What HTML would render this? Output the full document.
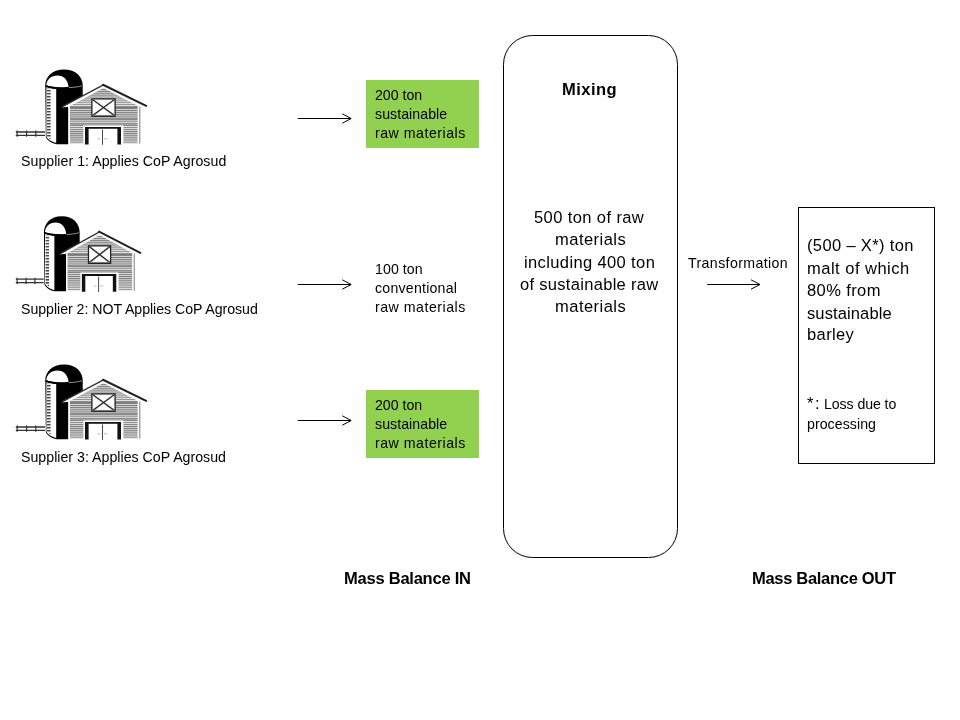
<!DOCTYPE html>
<html lang="en">
<head>
<meta charset="utf-8">
<title>Mass Balance</title>
<style>
html,body{margin:0;padding:0;background:#fff;}
body{width:960px;height:720px;position:relative;overflow:hidden;font-family:"Liberation Sans",sans-serif;color:#000;}
.t{position:absolute;will-change:transform;white-space:pre;line-height:normal;font-family:"Liberation Sans",sans-serif;color:#000;}
.b{font-weight:bold;}
.green{position:absolute;left:366px;width:113px;height:67.75px;background:#92d050;}
svg.art{position:absolute;left:0;top:0;width:960px;height:720px;}
</style>
</head>
<body>
<div class="green" style="top:80px"></div>
<div class="green" style="top:390px"></div>
<svg class="art" viewBox="0 0 960 720" width="960" height="720">
<defs>
<pattern id="sid" x="0" y="0.9" width="4" height="2.1" patternUnits="userSpaceOnUse">
<rect x="0" y="0" width="4" height="2.1" fill="#e6e6e6"/>
<rect x="0" y="0" width="4" height="1.05" fill="#7c7c7c"/>
</pattern>
<pattern id="lad" x="0" y="0" width="4" height="3" patternUnits="userSpaceOnUse">
<rect x="0" y="0" width="4" height="3" fill="#eee"/>
<rect x="0" y="0" width="4" height="1.4" fill="#444"/>
</pattern>
</defs>
<!-- barns -->
<g>
<!-- fence -->
<g stroke="#333" stroke-width="1.3" fill="none">
<path d="M15.8 132H45M15.8 135.4H45"/>
<path d="M17.2 130.6V136.8M26.6 130.6V136.8M35.8 130.6V136.8" stroke-width="1.2"/>
</g>
<!-- silo -->
<path d="M45.3 85.5C45.3 77 52 69.5 64 69.5C76 69.5 82.7 77 82.7 85.5V96L68.4 104V144.2H57C50.5 143 47 140 45.8 137Z" fill="#000"/>
<path d="M46.3 85.3C46.6 79.6 51 75.6 57.5 75.6C64 75.6 67.5 80 68.6 86.8C62 88 52 87.4 46.3 85.3Z" fill="#fff"/>
<path d="M46.4 87.2C50 88.4 53 88.9 56.2 89.1V143C51 141.5 47.5 139.5 46.4 136.5Z" fill="#fff"/>
<path d="M47 88V136.5L50.6 139.5V88.8Z" fill="url(#lad)"/>
<path d="M45.3 85.5C52 88.6 74 89.4 82.7 85.6" stroke="#000" stroke-width="1.2" fill="none"/>
<path d="M68.8 87.6C74 87.4 79 86.8 82.5 85.6" stroke="#fff" stroke-width="0.7" fill="none" opacity=".8"/>
<!-- barn body -->
<path d="M62 107.6L103.5 85L146.5 106.8H140.2V144.2H68.4V106.8Z" fill="#fff"/>
<path d="M70 106L103.5 88L137.6 105.8V143.6H70Z" fill="url(#sid)"/>
<path d="M70 107.6H137.6M70 119H137.6" stroke="#555" stroke-width="0.8" fill="none"/>
<rect x="70" y="123.4" width="67.6" height="2.4" fill="#777" opacity=".55"/>
<path d="M139.8 106.5V143.6" stroke="#444" stroke-width="0.7" fill="none"/>
<!-- roof -->
<path d="M62.2 106.6L103.5 84.9" fill="none" stroke="#333" stroke-width="1.4"/>
<path d="M103 84.8L146.2 105.9" fill="none" stroke="#222" stroke-width="2.1" stroke-linecap="round"/>
<!-- window -->
<rect x="91.9" y="98.9" width="23.2" height="17.4" fill="#fff" stroke="#222" stroke-width="1.3"/>
<path d="M92.5 99.5L114.5 115.7M114.5 99.5L92.5 115.7" stroke="#333" stroke-width="1.5" fill="none"/>
<path d="M92.5 115.4H114.5" stroke="#777" stroke-width="1" fill="none"/>
<!-- door -->
<rect x="83.4" y="125.4" width="40" height="19.2" fill="#fff"/>
<path d="M85 144.5V127H121V144.5H117.4V128.8H88.6V144.5Z" fill="#111"/>
<path d="M102.5 129.5V144.8" stroke="#333" stroke-width="0.9"/>
<path d="M97.5 138.8H100.2M104 138.8H107.5" stroke="#aaa" stroke-width="0.8"/>
</g>
<g transform="translate(15.8 216.3) scale(0.955 1.005) translate(-15.8 -69.5)">
<!-- fence -->
<g stroke="#333" stroke-width="1.3" fill="none">
<path d="M15.8 132H45M15.8 135.4H45"/>
<path d="M17.2 130.6V136.8M26.6 130.6V136.8M35.8 130.6V136.8" stroke-width="1.2"/>
</g>
<!-- silo -->
<path d="M45.3 85.5C45.3 77 52 69.5 64 69.5C76 69.5 82.7 77 82.7 85.5V96L68.4 104V144.2H57C50.5 143 47 140 45.8 137Z" fill="#000"/>
<path d="M46.3 85.3C46.6 79.6 51 75.6 57.5 75.6C64 75.6 67.5 80 68.6 86.8C62 88 52 87.4 46.3 85.3Z" fill="#fff"/>
<path d="M46.4 87.2C50 88.4 53 88.9 56.2 89.1V143C51 141.5 47.5 139.5 46.4 136.5Z" fill="#fff"/>
<path d="M47 88V136.5L50.6 139.5V88.8Z" fill="url(#lad)"/>
<path d="M45.3 85.5C52 88.6 74 89.4 82.7 85.6" stroke="#000" stroke-width="1.2" fill="none"/>
<path d="M68.8 87.6C74 87.4 79 86.8 82.5 85.6" stroke="#fff" stroke-width="0.7" fill="none" opacity=".8"/>
<!-- barn body -->
<path d="M62 107.6L103.5 85L146.5 106.8H140.2V144.2H68.4V106.8Z" fill="#fff"/>
<path d="M70 106L103.5 88L137.6 105.8V143.6H70Z" fill="url(#sid)"/>
<path d="M70 107.6H137.6M70 119H137.6" stroke="#555" stroke-width="0.8" fill="none"/>
<rect x="70" y="123.4" width="67.6" height="2.4" fill="#777" opacity=".55"/>
<path d="M139.8 106.5V143.6" stroke="#444" stroke-width="0.7" fill="none"/>
<!-- roof -->
<path d="M62.2 106.6L103.5 84.9" fill="none" stroke="#333" stroke-width="1.4"/>
<path d="M103 84.8L146.2 105.9" fill="none" stroke="#222" stroke-width="2.1" stroke-linecap="round"/>
<!-- window -->
<rect x="91.9" y="98.9" width="23.2" height="17.4" fill="#fff" stroke="#222" stroke-width="1.3"/>
<path d="M92.5 99.5L114.5 115.7M114.5 99.5L92.5 115.7" stroke="#333" stroke-width="1.5" fill="none"/>
<path d="M92.5 115.4H114.5" stroke="#777" stroke-width="1" fill="none"/>
<!-- door -->
<rect x="83.4" y="125.4" width="40" height="19.2" fill="#fff"/>
<path d="M85 144.5V127H121V144.5H117.4V128.8H88.6V144.5Z" fill="#111"/>
<path d="M102.5 129.5V144.8" stroke="#333" stroke-width="0.9"/>
<path d="M97.5 138.8H100.2M104 138.8H107.5" stroke="#aaa" stroke-width="0.8"/>
</g>
<g transform="translate(0 295)">
<!-- fence -->
<g stroke="#333" stroke-width="1.3" fill="none">
<path d="M15.8 132H45M15.8 135.4H45"/>
<path d="M17.2 130.6V136.8M26.6 130.6V136.8M35.8 130.6V136.8" stroke-width="1.2"/>
</g>
<!-- silo -->
<path d="M45.3 85.5C45.3 77 52 69.5 64 69.5C76 69.5 82.7 77 82.7 85.5V96L68.4 104V144.2H57C50.5 143 47 140 45.8 137Z" fill="#000"/>
<path d="M46.3 85.3C46.6 79.6 51 75.6 57.5 75.6C64 75.6 67.5 80 68.6 86.8C62 88 52 87.4 46.3 85.3Z" fill="#fff"/>
<path d="M46.4 87.2C50 88.4 53 88.9 56.2 89.1V143C51 141.5 47.5 139.5 46.4 136.5Z" fill="#fff"/>
<path d="M47 88V136.5L50.6 139.5V88.8Z" fill="url(#lad)"/>
<path d="M45.3 85.5C52 88.6 74 89.4 82.7 85.6" stroke="#000" stroke-width="1.2" fill="none"/>
<path d="M68.8 87.6C74 87.4 79 86.8 82.5 85.6" stroke="#fff" stroke-width="0.7" fill="none" opacity=".8"/>
<!-- barn body -->
<path d="M62 107.6L103.5 85L146.5 106.8H140.2V144.2H68.4V106.8Z" fill="#fff"/>
<path d="M70 106L103.5 88L137.6 105.8V143.6H70Z" fill="url(#sid)"/>
<path d="M70 107.6H137.6M70 119H137.6" stroke="#555" stroke-width="0.8" fill="none"/>
<rect x="70" y="123.4" width="67.6" height="2.4" fill="#777" opacity=".55"/>
<path d="M139.8 106.5V143.6" stroke="#444" stroke-width="0.7" fill="none"/>
<!-- roof -->
<path d="M62.2 106.6L103.5 84.9" fill="none" stroke="#333" stroke-width="1.4"/>
<path d="M103 84.8L146.2 105.9" fill="none" stroke="#222" stroke-width="2.1" stroke-linecap="round"/>
<!-- window -->
<rect x="91.9" y="98.9" width="23.2" height="17.4" fill="#fff" stroke="#222" stroke-width="1.3"/>
<path d="M92.5 99.5L114.5 115.7M114.5 99.5L92.5 115.7" stroke="#333" stroke-width="1.5" fill="none"/>
<path d="M92.5 115.4H114.5" stroke="#777" stroke-width="1" fill="none"/>
<!-- door -->
<rect x="83.4" y="125.4" width="40" height="19.2" fill="#fff"/>
<path d="M85 144.5V127H121V144.5H117.4V128.8H88.6V144.5Z" fill="#111"/>
<path d="M102.5 129.5V144.8" stroke="#333" stroke-width="0.9"/>
<path d="M97.5 138.8H100.2M104 138.8H107.5" stroke="#aaa" stroke-width="0.8"/>
</g>
<!-- arrows -->
<g stroke="#000" stroke-width="1" fill="none" stroke-linecap="butt" stroke-linejoin="miter">
<path d="M297.8 118.5H351M342.3 113.8L351.2 118.5L342.3 123.2"/>
<path d="M297.8 284.5H351M342.3 279.8L351.2 284.5L342.3 289.2"/>
<path d="M297.8 420.5H351M342.3 415.8L351.2 420.5L342.3 425.2"/>
<path d="M707.2 284.5H759.8M751 279.8L760 284.5L751 289.2"/>
</g>
<!-- mixing vessel -->
<rect x="503.5" y="35.5" width="174" height="522" rx="29" ry="29" fill="none" stroke="#000" stroke-width="1"/>
<!-- output box -->
<rect x="798.5" y="207.5" width="136" height="256" fill="none" stroke="#000" stroke-width="1"/>
</svg>

<span class="t" style="left:21.00px;top:152.99px;font-size:14.16px;letter-spacing:0.030px">Supplier 1: Applies CoP Agrosud</span>
<span class="t" style="left:21.00px;top:301.49px;font-size:14.16px;letter-spacing:-0.032px">Supplier 2: NOT Applies CoP Agrosud</span>
<span class="t" style="left:21.00px;top:448.79px;font-size:14.16px;letter-spacing:0.021px">Supplier 3: Applies CoP Agrosud</span>
<span class="t" style="left:375.05px;top:87.19px;font-size:14.16px;letter-spacing:-0.005px">200 ton</span>
<span class="t" style="left:375.05px;top:106.09px;font-size:14.16px;letter-spacing:0.052px">sustainable</span>
<span class="t" style="left:375.05px;top:124.99px;font-size:14.16px;letter-spacing:0.510px">raw materials</span>
<span class="t" style="left:375.05px;top:260.94px;font-size:14.16px;letter-spacing:0.067px">100 ton</span>
<span class="t" style="left:375.05px;top:280.19px;font-size:14.16px;letter-spacing:0.225px">conventional</span>
<span class="t" style="left:375.05px;top:299.19px;font-size:14.16px;letter-spacing:0.510px">raw materials</span>
<span class="t" style="left:375.05px;top:397.19px;font-size:14.16px;letter-spacing:-0.005px">200 ton</span>
<span class="t" style="left:375.05px;top:416.19px;font-size:14.16px;letter-spacing:0.052px">sustainable</span>
<span class="t" style="left:375.05px;top:435.19px;font-size:14.16px;letter-spacing:0.510px">raw materials</span>
<span class="t b" style="left:562.30px;top:80.05px;font-size:16.52px;letter-spacing:0.451px">Mixing</span>
<span class="t" style="left:534.30px;top:207.75px;font-size:16.52px;letter-spacing:0.395px">500 ton of raw</span>
<span class="t" style="left:554.50px;top:230.15px;font-size:16.52px;letter-spacing:0.467px">materials</span>
<span class="t" style="left:523.70px;top:252.55px;font-size:16.52px;letter-spacing:0.371px">including 400 ton</span>
<span class="t" style="left:520.10px;top:274.95px;font-size:16.52px;letter-spacing:0.299px">of sustainable raw</span>
<span class="t" style="left:554.50px;top:297.35px;font-size:16.52px;letter-spacing:0.467px">materials</span>
<span class="t" style="left:687.70px;top:255.39px;font-size:14.16px;letter-spacing:0.388px">Transformation</span>
<span class="t" style="left:806.80px;top:236.35px;font-size:16.52px;letter-spacing:0.348px">(500 – X*) ton</span>
<span class="t" style="left:806.80px;top:258.75px;font-size:16.52px;letter-spacing:0.485px">malt of which</span>
<span class="t" style="left:806.80px;top:281.15px;font-size:16.52px;letter-spacing:0.389px">80% from</span>
<span class="t" style="left:806.80px;top:303.55px;font-size:16.52px;letter-spacing:0.112px">sustainable</span>
<span class="t" style="left:806.80px;top:325.45px;font-size:16.52px;letter-spacing:0.378px">barley</span>
<span class="t" style="left:807.30px;top:394.30px;font-size:16.52px;letter-spacing:1.684px">*:</span>
<span class="t" style="left:824.30px;top:396.44px;font-size:14.16px;letter-spacing:-0.087px">Loss due to</span>
<span class="t" style="left:806.80px;top:416.44px;font-size:14.16px;letter-spacing:0.053px">processing</span>
<span class="t b" style="left:344.30px;top:568.80px;font-size:16.52px;letter-spacing:-0.241px">Mass Balance IN</span>
<span class="t b" style="left:752.30px;top:568.80px;font-size:16.52px;letter-spacing:-0.310px">Mass Balance OUT</span>
</body>
</html>
